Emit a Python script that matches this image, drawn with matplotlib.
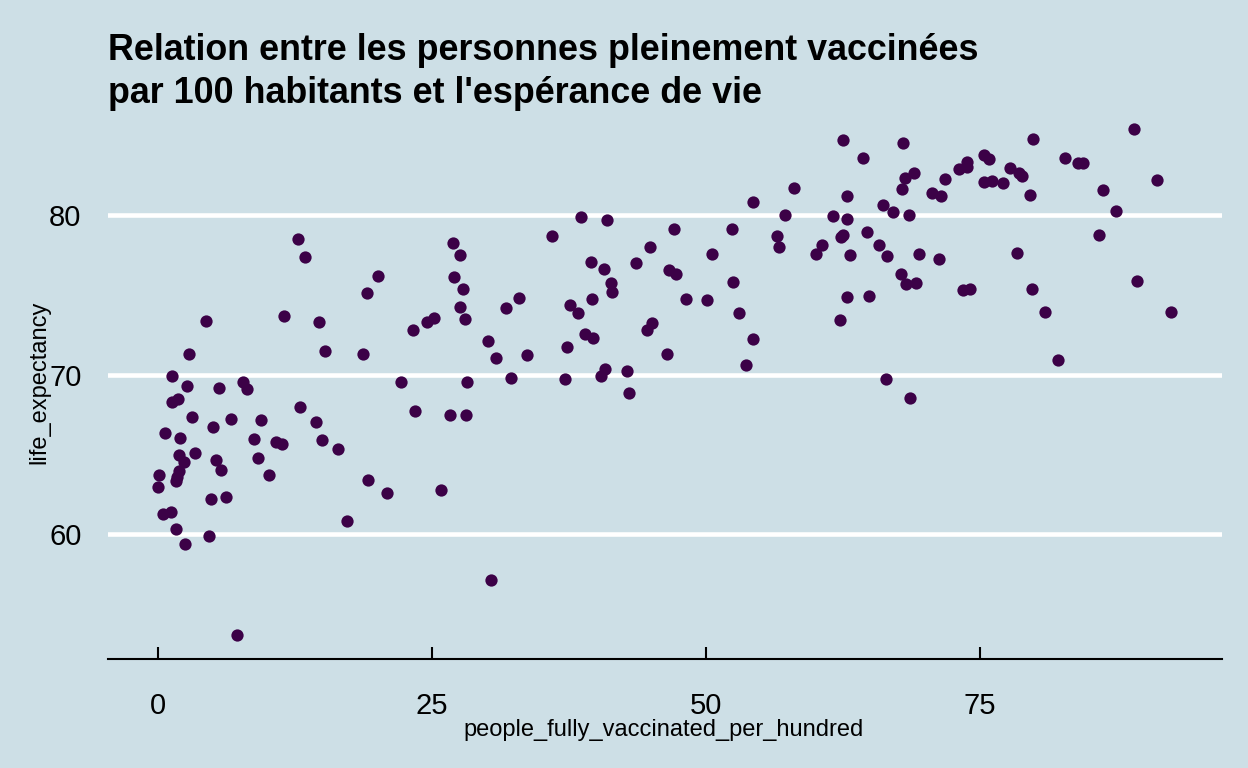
import matplotlib
matplotlib.use("Agg")
import matplotlib.pyplot as plt

plt.rcParams['font.family'] = ['Liberation Sans', 'DejaVu Sans']

# people fully vaccinated per hundred (x) and life expectancy (y)
vaccinated = [
    4.38, 11.50, 2.83, 1.28, 2.65, 5.57, 7.76, 8.12, 1.28, 1.82,
    3.10, 5.02, 6.66, 9.40, 0.64, 2.01, 8.76, 10.77, 11.31, 1.92,
    3.38, 2.37, 5.29, 5.75, 9.12, 10.13, 0.09, 0.00, 1.92, 1.73,
    1.64, 4.84, 6.20, 0.46, 1.19, 1.64, 4.65, 2.46, 7.21,
    12.77, 13.41, 20.07, 19.07, 14.69, 15.24, 18.70, 23.27, 24.54, 25.18,
    26.92, 27.55, 27.01, 27.83, 27.55, 28.01, 30.11, 30.84, 33.67, 31.75,
    32.94, 32.21, 22.17, 28.19, 12.96, 14.42, 14.96, 16.42, 19.16, 20.89,
    25.82, 26.64, 28.10, 23.45, 17.24, 30.38,
    54.29, 38.59, 40.97, 57.21, 35.95, 47.08, 52.37, 56.48, 56.66, 44.89,
    50.55, 39.51, 40.69, 43.61, 46.62, 47.26, 41.33, 41.42, 39.60, 37.59,
    38.32, 48.18, 50.09, 52.46, 53.01, 38.96, 39.69, 37.32, 45.07, 44.62,
    46.44, 54.29, 53.65, 37.14, 40.78, 40.42, 42.79, 42.97,
    62.50, 67.97, 64.32, 58.03, 62.86, 61.59, 62.86, 66.15, 67.06, 68.52,
    67.88, 68.16, 68.98, 70.62, 71.44, 71.81, 73.08, 73.81, 73.81, 75.36,
    75.82, 75.36, 76.09, 62.50, 62.32, 64.69, 60.58, 60.04, 63.14, 65.78,
    66.51, 69.43, 71.26, 67.79, 68.25, 69.16, 73.45, 74.09, 62.86, 64.87,
    62.23, 66.42, 68.61,
    89.05, 79.84, 82.76, 83.94, 84.40, 77.74, 78.56, 78.83, 77.10, 79.56,
    86.22, 91.15, 87.41, 85.86, 78.38, 89.32, 79.74, 80.93, 92.43, 82.12,
]
life_expectancy = [
    73.35, 73.67, 71.29, 69.91, 69.28, 69.15, 69.53, 69.09, 68.28, 68.46,
    67.34, 66.71, 67.21, 67.15, 66.33, 66.02, 65.96, 65.77, 65.64, 64.95,
    65.08, 64.51, 64.64, 64.01, 64.76, 63.70, 63.70, 62.95, 63.95, 63.57,
    63.32, 62.19, 62.32, 61.25, 61.38, 60.31, 59.87, 59.37, 53.67,
    78.50, 77.37, 76.18, 75.11, 73.29, 71.47, 71.29, 72.79, 73.29, 73.54,
    78.24, 77.49, 76.11, 75.36, 74.23, 73.48, 72.10, 71.03, 71.22, 74.17,
    74.80, 69.78, 69.53, 69.53, 67.96, 67.02, 65.89, 65.33, 63.39, 62.57,
    62.76, 67.46, 67.46, 67.71, 60.81, 57.12,
    80.82, 79.87, 79.69, 80.00, 78.68, 79.12, 79.12, 78.68, 77.99, 77.99,
    77.55, 77.05, 76.61, 76.99, 76.55, 76.30, 75.74, 75.17, 74.73, 74.36,
    73.86, 74.73, 74.67, 75.80, 73.86, 72.54, 72.29, 71.72, 73.23, 72.79,
    71.29, 72.23, 70.60, 69.72, 70.34, 69.91, 70.22, 68.84,
    84.70, 84.51, 83.57, 81.69, 81.19, 79.94, 79.75, 80.63, 80.19, 80.00,
    81.63, 82.32, 82.63, 81.38, 81.19, 82.26, 82.88, 83.32, 83.01, 83.76,
    83.51, 82.07, 82.13, 78.75, 78.62, 78.93, 78.12, 77.55, 77.49, 78.12,
    77.43, 77.55, 77.24, 76.30, 75.67, 75.74, 75.30, 75.36, 74.86, 74.92,
    73.42, 69.72, 68.53,
    85.39, 84.76, 83.57, 83.26, 83.26, 82.95, 82.63, 82.45, 82.01, 81.25,
    81.57, 82.19, 80.25, 78.75, 77.62, 75.86, 75.36, 73.92, 73.92, 70.91,
]

x_ticks = [0, 25, 50, 75]
y_ticks = [60, 70, 80]

title = ("Relation entre les personnes pleinement vaccinées\n"
         "par 100 habitants et l'espérance de vie")

bg = '#cddfe6'
W, H = 1248, 768

fig = plt.figure(figsize=(W / 100, H / 100), dpi=100, facecolor=bg)
ax = fig.add_axes([108 / W, 1 - 659 / H, (1222 - 108) / W, (659 - 103.4) / H])
ax.set_facecolor(bg)

ax.scatter(vaccinated, life_expectancy, s=78, color='#3c0147', linewidths=0, zorder=3)

ax.set_xlim(-4.56, 97.1)
ax.set_ylim(52.16, 87.0)
ax.set_xticks(x_ticks)
ax.set_yticks(y_ticks)

ax.set_axisbelow(True)
ax.yaxis.grid(True, color='white', linewidth=3.3)
ax.xaxis.grid(False)

for side in ['top', 'right', 'left']:
    ax.spines[side].set_visible(False)
ax.spines['bottom'].set_color('black')
ax.spines['bottom'].set_linewidth(1.5)

ax.tick_params(axis='x', direction='in', length=8.6, width=1.5, color='black',
               pad=24, labelsize=21, labelcolor='black')
ax.tick_params(axis='y', length=0, pad=19, labelsize=21, labelcolor='black')

fig.text(108 / W, 1 - 33 / H, title, ha='left', va='top', fontsize=25.8,
         fontweight='bold', linespacing=1.3)
fig.text(39 / W, 1 - 382 / H, 'life_expectancy', rotation=90, ha='center',
         va='center', fontsize=17)
fig.text(664 / W, 1 - 736 / H, 'people_fully_vaccinated_per_hundred',
         ha='center', va='baseline', fontsize=17)

fig.savefig('out.png', dpi=100, facecolor=bg)
